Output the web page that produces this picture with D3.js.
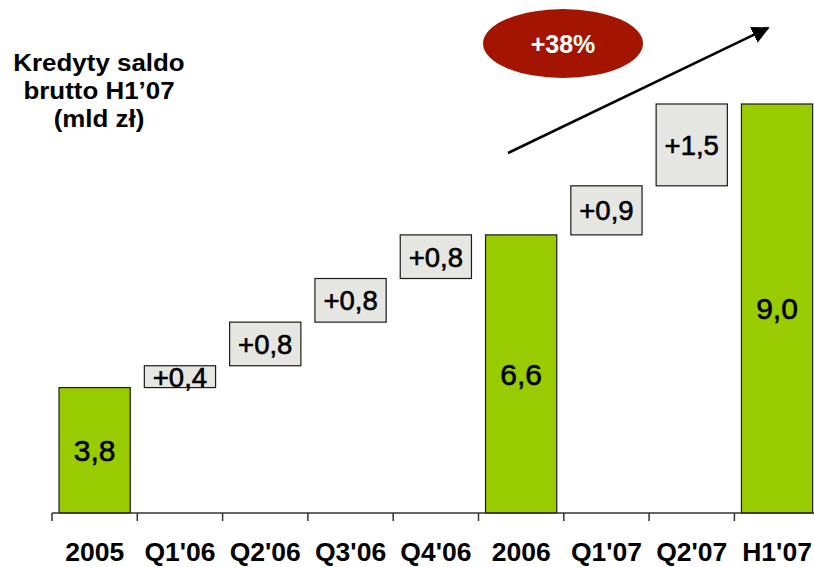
<!DOCTYPE html>
<html>
<head>
<meta charset="utf-8">
<script src="https://cdn.jsdelivr.net/npm/d3@7"></script>
<style>
  html, body { margin: 0; padding: 0; background: #ffffff; }
  svg { display: block; font-family: "Liberation Sans", Arial, sans-serif; }
</style>
</head>
<body>
<svg id="chart" width="814" height="567"></svg>
<script>
// ---- data ----
const categories = ["2005", "Q1'06", "Q2'06", "Q3'06", "Q4'06", "2006", "Q1'07", "Q2'07", "H1'07"];
const values     = [3.8, 0.4, 0.8, 0.8, 0.8, 6.6, 0.9, 1.5, 9.0];
const kinds      = ["total", "delta", "delta", "delta", "delta", "total", "delta", "delta", "total"];
const valueLabels = ["3,8", "+0,4", "+0,8", "+0,8", "+0,8", "6,6", "+0,9", "+1,5", "9,0"];
const titleLines = ["Kredyty saldo", "brutto H1\u201907", "(mld z\u0142)"];
const growthLabel = "+38%";
const yDomain = [1.5, 9.0]; // truncated value axis

// ---- build waterfall rows ----
let running = 0;
const rows = categories.map((c, i) => {
  let start, end;
  if (kinds[i] === "total") { start = yDomain[0]; end = values[i]; running = values[i]; }
  else { start = running; end = running + values[i]; running = end; }
  return { cat: c, kind: kinds[i], start, end, label: valueLabels[i] };
});

const svg = d3.select("#chart");
const baseY = 513, topY = 104;
const x0 = 52, step = 85.3;

const xStep = d3.scaleBand().domain(categories).range([x0, x0 + step * categories.length]).padding(0);
const xBar = d3.scaleBand().domain(categories).range([x0, x0 + step * categories.length])
  .paddingInner(0.165).paddingOuter(0.0825);
const y = d3.scaleLinear().domain(yDomain).range([baseY, topY]);

// bars
const g = svg.append("g");
g.selectAll("rect.bar").data(rows).enter().append("rect")
  .attr("class", "bar")
  .attr("x", d => xBar(d.cat))
  .attr("width", xBar.bandwidth())
  .attr("y", d => y(d.end))
  .attr("height", d => y(d.start) - y(d.end))
  .attr("fill", d => d.kind === "total" ? "#99cc00" : "#e6e6e2")
  .attr("stroke", "#1a1a1a")
  .attr("stroke-width", 1.2);

// value labels
g.selectAll("text.val").data(rows).enter().append("text")
  .attr("class", "val")
  .attr("x", d => xBar(d.cat) + xBar.bandwidth() / 2)
  .attr("y", d => (y(d.start) + y(d.end)) / 2)
  .attr("dy", "0.36em")
  .attr("text-anchor", "middle")
  .attr("font-size", d => d.kind === "total" ? 30 : 27.5)
  .attr("fill", "#000")
  .attr("stroke", "#000")
  .attr("stroke-width", 0.6)
  .text(d => d.label);

// axis
const axis = svg.append("g");
axis.append("line")
  .attr("x1", x0).attr("x2", 814).attr("y1", baseY).attr("y2", baseY)
  .attr("stroke", "#333").attr("stroke-width", 1.5);
axis.selectAll("line.tick").data(categories).enter().append("line")
  .attr("class", "tick")
  .attr("x1", d => xStep(d)).attr("x2", d => xStep(d))
  .attr("y1", baseY).attr("y2", baseY + 8)
  .attr("stroke", "#333").attr("stroke-width", 1.5);
const xAxis = d3.axisBottom(xStep).tickSize(0).tickSizeOuter(0).tickPadding(0);
const ax = svg.append("g").attr("transform", `translate(0,${baseY})`).call(xAxis);
ax.select(".domain").remove();
ax.selectAll("text")
  .attr("y", 47.5)
  .attr("dy", 0)
  .attr("font-size", 26.5)
  .attr("font-weight", "bold")
  .attr("font-family", "Liberation Sans, Arial, sans-serif")
  .attr("fill", "#000");

// title
const title = svg.append("g").attr("transform", "translate(99,0) scale(1.08,1)");
title.selectAll("text").data(titleLines).enter().append("text")
  .attr("x", 0)
  .attr("y", (d, i) => 71 + i * 28)
  .attr("text-anchor", "middle")
  .attr("font-size", 24)
  .attr("font-weight", "bold")
  .attr("fill", "#000")
  .text(d => d);

// growth arrow
const defs = svg.append("defs");
defs.append("marker").attr("id", "arrowhead")
  .attr("viewBox", "0 0 10 10").attr("refX", 9).attr("refY", 5)
  .attr("markerWidth", 7).attr("markerHeight", 7).attr("orient", "auto")
  .attr("markerUnits", "strokeWidth")
  .append("path").attr("d", "M0,0 L10,5 L0,10 Z").attr("fill", "#000");
svg.append("line")
  .attr("x1", 508).attr("y1", 153).attr("x2", 768).attr("y2", 28)
  .attr("stroke", "#000").attr("stroke-width", 2.5)
  .attr("marker-end", "url(#arrowhead)");

// growth ellipse
svg.append("ellipse")
  .attr("cx", 563).attr("cy", 43.5).attr("rx", 80).attr("ry", 34.5)
  .attr("fill", "#a31500");
svg.append("text")
  .attr("x", 563).attr("y", 44).attr("dy", "0.36em")
  .attr("text-anchor", "middle")
  .attr("font-size", 25).attr("font-weight", "bold")
  .attr("fill", "#fff")
  .text(growthLabel);
</script>
</body>
</html>
